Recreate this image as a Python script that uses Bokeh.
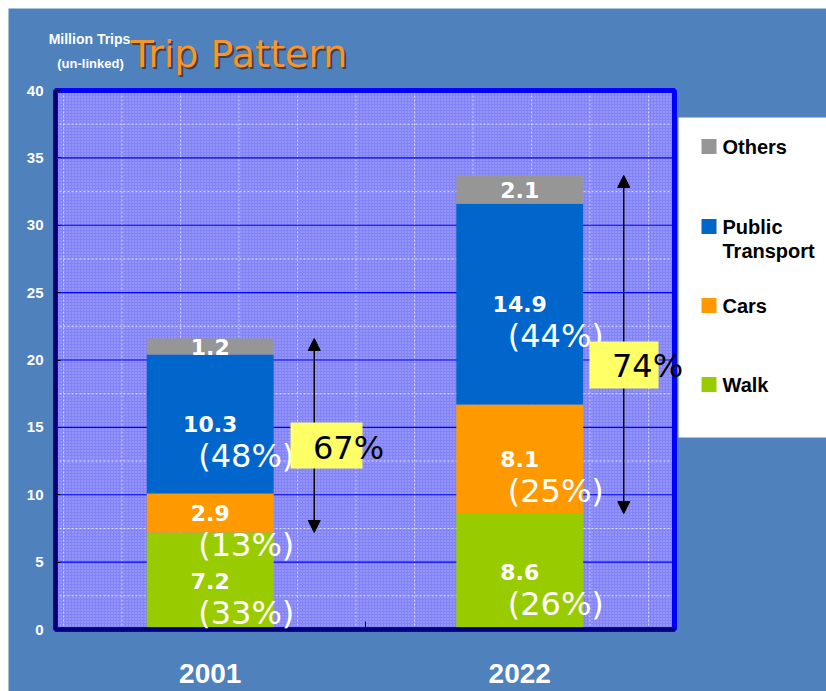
from bokeh.plotting import figure
from bokeh.models import (ColumnDataSource, Range1d, FixedTicker, Label, Arrow, NormalHead,
                          BoxAnnotation)
from bokeh.layouts import row
from bokeh.embed import file_html
from bokeh.resources import INLINE
from bokeh.core.properties import value

# ---------------- data ----------------
years = ["2001", "2022"]
modes = ["Walk", "Cars", "Public Transport", "Others"]
walk = [7.2, 8.6]
cars = [2.9, 8.1]
public_transport = [10.3, 14.9]
others = [1.2, 2.1]
walk_pct = [33, 26]
cars_pct = [13, 25]
public_transport_pct = [48, 44]
non_walk_share = [67, 74]
colors = ["#99cc00", "#ff9900", "#0066cc", "#969696"]
y_tick_values = [0, 5, 10, 15, 20, 25, 30, 35, 40]

series = {"Walk": walk, "Cars": cars, "Public Transport": public_transport, "Others": others}
pcts = {"Walk": walk_pct, "Cars": cars_pct, "Public Transport": public_transport_pct, "Others": None}

# ---------------- layout helpers (window pixels -> data) ----------------
BG = "#4f81bd"
SANS_NAME = "DejaVu Sans"
SANS = value(SANS_NAME)
ARIAL = "Liberation Sans"
X0_PX, Y0_PX = 55.0, 629.0        # window position of data origin
PXU, PYU = 309.5, 13.475           # pixels per data unit
def X(px): return (px - X0_PX) / PXU
def Y(py): return (Y0_PX - py) / PYU

X_MAX = max(len(years), 2)
Y_MAX = 40

xs = [i + 0.5 for i in range(len(years))]
keys = ["walk", "cars", "pt", "others"]
src = ColumnDataSource(dict(x=xs, walk=walk, cars=cars, pt=public_transport, others=others))

p = figure(width=818, height=683, x_range=Range1d(X(8), X(826)), y_range=Range1d(Y(691), Y(8)),
           output_backend="svg", toolbar_location=None,
           min_border_left=0, min_border_right=0, min_border_top=0, min_border_bottom=0,
           background_fill_color=BG, border_fill_color=BG, outline_line_color=None)
p.grid.visible = False

# plot area with texture
p.quad(left=[0], right=[X_MAX], bottom=[0], top=[Y_MAX], fill_color="#8383f8", line_color=None,
       hatch_pattern="dot", hatch_color="white", hatch_alpha=0.35, hatch_scale=3,
       hatch_weight=1, level="image")
# grid lines
minor_y = [t + 2.5 for t in y_tick_values[:-1]]
p.segment(x0=[0] * len(minor_y), x1=[X_MAX] * len(minor_y), y0=minor_y, y1=minor_y,
          line_color="white", line_dash="2 2", line_alpha=0.7, level="underlay")
vgrid = [X(63 + 58.5 * k) for k in range(11)]
p.segment(x0=vgrid, x1=vgrid, y0=[0] * len(vgrid), y1=[Y_MAX] * len(vgrid),
          line_color="white", line_dash="2 2", line_alpha=0.6, level="underlay")
p.segment(x0=[0] * len(y_tick_values), x1=[X_MAX] * len(y_tick_values), y0=y_tick_values,
          y1=y_tick_values, line_color="#0000ff", line_width=1.2, level="underlay")

# stacked bars
p.vbar_stack(keys, x="x", width=0.41, color=colors, source=src, line_color=None)

# plot-area border
p.quad(left=[0], right=[X_MAX], bottom=[0], top=[Y_MAX], fill_color=None,
       line_color="#0000ff", line_width=5)

# value and share labels
vx, vy, vt, px_, py_, pt_ = [], [], [], [], [], []
for i in range(len(years)):
    bottom = 0.0
    for m in modes:
        v = series[m][i]
        mid = bottom + v / 2
        vx.append(xs[i]); vy.append(mid); vt.append(f"{v}")
        if pcts[m] is not None:
            px_.append(xs[i]); py_.append(mid - 2.4); pt_.append(f"({pcts[m][i]}%)")
        bottom += v

p.text(x=vx, y=vy, text=vt, text_font=SANS, text_font_style="bold", text_font_size="22px",
       text_color="white", text_align="center", text_baseline="middle")
p.text(x=px_, y=py_, text=pt_, x_offset=36, text_font=SANS, text_font_size="32px",
       text_color="white", text_align="center", text_baseline="middle")

# ---------------- legend box ----------------
legend_modes = list(reversed(modes))
legend_colors = list(reversed(colors))
p.quad(left=[X(678)], right=[X(830)], bottom=[Y(437)], top=[Y(117)], fill_color="white",
       line_color=None)
item_rows_px = [146, 226, 305, 384]
p.scatter(x=[X(708.5)] * len(legend_modes), y=[Y(r) for r in item_rows_px], marker="square",
          size=15, fill_color=legend_colors, line_color=None)
tx_, ty_, tt_ = [], [], []
for m, r in zip(legend_modes, item_rows_px):
    parts = m.split(" ") if len(m) > 10 else [m]
    for j, part in enumerate(parts):
        tx_.append(X(722)); ty_.append(Y(r + j * 24)); tt_.append(part)
p.text(x=tx_, y=ty_, text=tt_, text_font=value(ARIAL), text_font_style="bold",
       text_font_size="20px", text_color="black", text_align="left", text_baseline="middle")

# arrows for non-walk share
totals = [walk[i] + cars[i] + public_transport[i] + others[i] for i in range(len(years))]
for i in range(len(years)):
    ax = xs[i] + 0.336
    p.add_layout(Arrow(start=NormalHead(size=12, fill_color="black", line_color="black"),
                       end=NormalHead(size=12, fill_color="black", line_color="black"),
                       x_start=ax, y_start=walk[i], x_end=ax, y_end=totals[i],
                       line_color="black", line_width=1.5))

# yellow share boxes (annotation layout, window pixels)
share_boxes = [(290, 362, 468, 422, 348, 447), (589, 658, 388, 341, 647, 365)]
for i, (l, r, b, t, tx, ty) in enumerate(share_boxes):
    p.add_layout(BoxAnnotation(left=X(l), right=X(r), bottom=Y(b), top=Y(t),
                               fill_color="#ffff66", fill_alpha=1, line_color=None))
    p.add_layout(Label(x=X(tx), y=Y(ty), text=f"{non_walk_share[i]}%", text_font=SANS_NAME,
                       text_font_size="32px", text_color="black", text_align="center",
                       text_baseline="middle"))

# axes
p.yaxis.fixed_location = 0
p.yaxis.ticker = FixedTicker(ticks=y_tick_values)
p.yaxis.bounds = (0, Y_MAX)
p.yaxis.major_label_text_color = "white"
p.yaxis.major_label_text_font = ARIAL
p.yaxis.major_label_text_font_style = "bold"
p.yaxis.major_label_text_font_size = "15px"
p.yaxis.major_label_standoff = 12
p.yaxis.major_tick_in = 5
p.yaxis.major_tick_out = 0
p.yaxis.major_tick_line_color = "black"
p.yaxis.minor_tick_line_color = None
p.yaxis.axis_line_color = "black"
p.yaxis.axis_line_width = 2

p.xaxis.fixed_location = 0
p.xaxis.ticker = FixedTicker(ticks=xs, minor_ticks=[1.0])
p.xaxis.bounds = (0, X_MAX)
p.xaxis.major_label_overrides = {xs[i]: years[i] for i in range(len(years))}
p.xaxis.major_label_text_color = "white"
p.xaxis.major_label_text_font = ARIAL
p.xaxis.major_label_text_font_style = "bold"
p.xaxis.major_label_text_font_size = "28px"
p.xaxis.major_label_standoff = 28
p.xaxis.major_tick_line_color = None
p.xaxis.minor_tick_in = 8
p.xaxis.minor_tick_out = 0
p.xaxis.minor_tick_line_color = "black"
p.xaxis.axis_line_color = "black"
p.xaxis.axis_line_width = 2

# titles
p.add_layout(Label(x=X(130), y=Y(53), text="Trip Pattern", x_offset=2, y_offset=-2,
                   text_font=SANS_NAME, text_font_size="38px", text_color="#3a2410",
                   text_alpha=0.7, text_baseline="alphabetic"))
p.add_layout(Label(x=X(130), y=Y(53), text="Trip Pattern", text_font=SANS_NAME,
                   text_font_size="38px", text_color="#f8962e", text_baseline="alphabetic"))
p.add_layout(Label(x=X(89), y=Y(38), text="Million Trips", text_font=ARIAL,
                   text_font_style="bold", text_font_size="14px", text_color="white",
                   text_align="center", text_baseline="alphabetic"))
p.add_layout(Label(x=X(90), y=Y(63), text="(un-linked)", text_font=ARIAL,
                   text_font_style="bold", text_font_size="13px", text_color="white",
                   text_align="center", text_baseline="alphabetic"))

layout = row(p, margin=(8, 0, 0, 8))
open("out.html", "w").write(file_html(layout, INLINE))
